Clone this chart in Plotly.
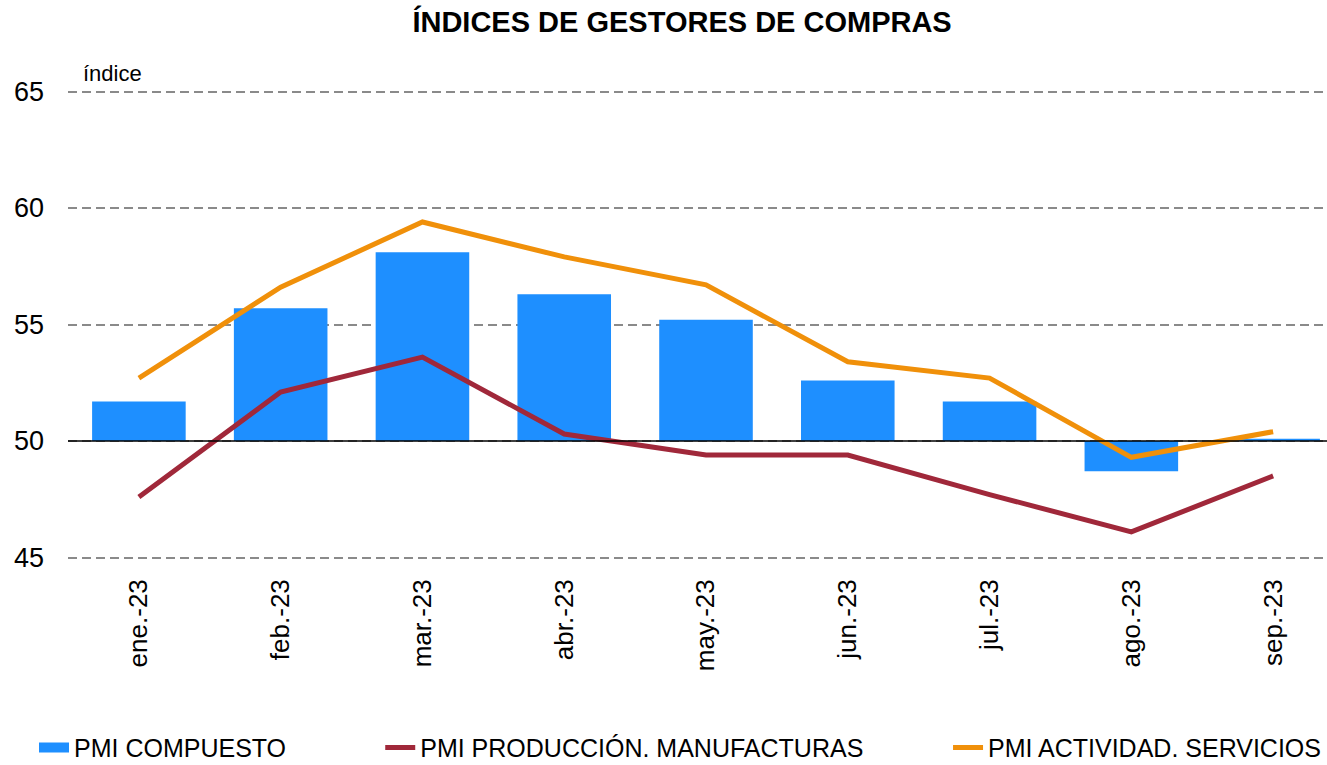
import plotly.graph_objects as go

months = ["ene.-23", "feb.-23", "mar.-23", "abr.-23", "may.-23", "jun.-23", "jul.-23", "ago.-23", "sep.-23"]
pmi_compuesto = [51.7, 55.7, 58.1, 56.3, 55.2, 52.6, 51.7, 48.7, 50.1]
pmi_manufacturas = [47.6, 52.1, 53.6, 50.3, 49.4, 49.4, 47.7, 46.1, 48.5]
pmi_servicios = [52.7, 56.6, 59.4, 57.9, 56.7, 53.4, 52.7, 49.3, 50.4]
base_level = 50

FONT = "Liberation Sans, Arial, sans-serif"
BLUE = "#1E8FFF"
RED = "#A0283A"
ORANGE = "#F0900A"

fig = go.Figure()
fig.add_trace(go.Bar(
    x=months, y=[v - base_level for v in pmi_compuesto], base=base_level,
    name="PMI COMPUESTO", marker=dict(color=BLUE, line=dict(width=0)),
    width=0.66, showlegend=False,
))
# legend entry for the bars (thick block symbol)
fig.add_trace(go.Scatter(
    x=[None], y=[None], mode="lines", name="PMI COMPUESTO",
    line=dict(color=BLUE, width=16), legend="legend", hoverinfo="skip",
))
fig.add_trace(go.Scatter(
    x=months, y=pmi_manufacturas, mode="lines", name="PMI PRODUCCIÓN. MANUFACTURAS",
    line=dict(color=RED, width=5), legend="legend2",
))
fig.add_trace(go.Scatter(
    x=months, y=pmi_servicios, mode="lines", name="PMI ACTIVIDAD. SERVICIOS",
    line=dict(color=ORANGE, width=5), legend="legend3",
))

fig.add_shape(type="line", xref="paper", yref="y", x0=0, x1=1, y0=base_level, y1=base_level,
              line=dict(color="black", width=1.5))

leg_common = dict(orientation="h", xanchor="left", y=-0.395, yanchor="middle",
                  font=dict(family=FONT, size=25, color="black"),
                  bgcolor="rgba(0,0,0,0)", itemwidth=30)

fig.update_layout(
    width=1327, height=765,
    margin=dict(l=68, r=0, t=87.5, b=203.5, autoexpand=False),
    paper_bgcolor="white", plot_bgcolor="white",
    title=dict(text="<b>ÍNDICES DE GESTORES DE COMPRAS</b>", x=0.514, xanchor="center",
               y=0.971, yanchor="middle", font=dict(family=FONT, size=29, color="black")),
    font=dict(family=FONT, color="black"),
    showlegend=True,
    legend=dict(x=-0.027, **leg_common),
    legend2=dict(x=0.248, **leg_common),
    legend3=dict(x=0.699, **leg_common),
    bargap=0.34,
    annotations=[dict(text="índice", xref="paper", yref="paper", x=0.01, y=1.0,
                      xanchor="left", yanchor="bottom", showarrow=False,
                      font=dict(family=FONT, size=22, color="black"))],
)
fig.update_xaxes(range=[-0.5, 8.38], tickangle=-90, tickfont=dict(family=FONT, size=26),
                 showgrid=False, showline=False, ticks="", ticklen=0, ticklabelstandoff=12)
fig.update_yaxes(range=[44.85, 65.15], tickvals=[45, 50, 55, 60, 65], tickfont=dict(family=FONT, size=27),
                 showgrid=True, gridcolor="#8a8a8a", griddash="9px,5px", gridwidth=1.5,
                 zeroline=False, showline=False, ticks="", ticklabelstandoff=23)

fig.write_html("out.html", config={"displayModeBar": False},
               post_script="document.body.style.margin='0';")
